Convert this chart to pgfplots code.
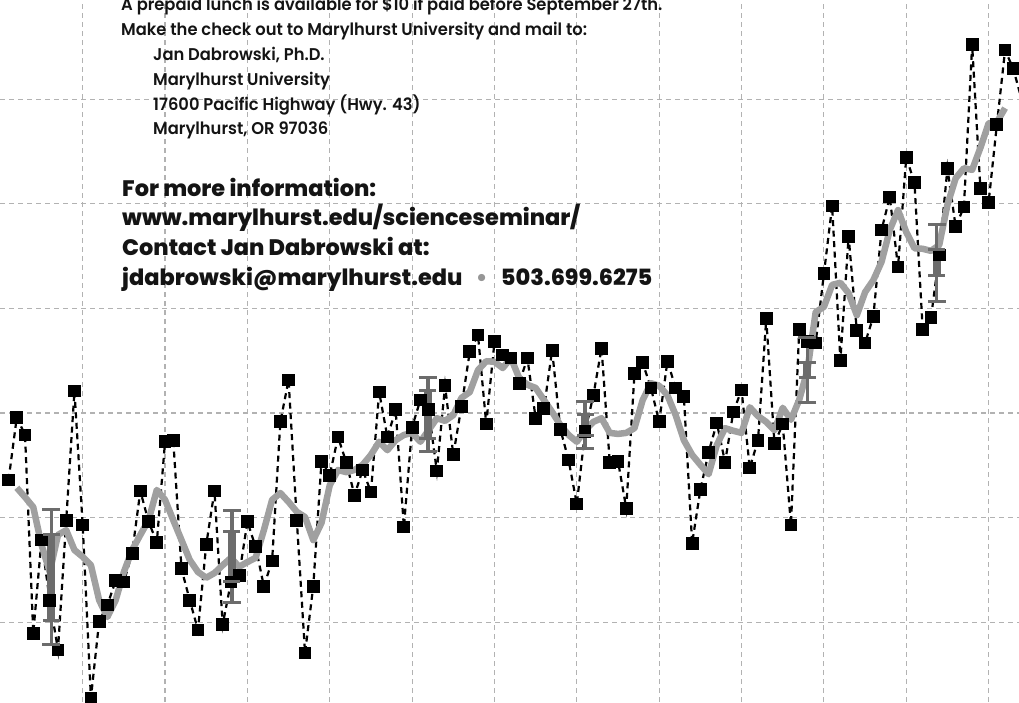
\documentclass[border=0pt]{standalone}
\usepackage{pgfplots}
\pgfplotsset{compat=1.18}
\usepackage{fontspec}
\setmainfont{Poppins}
\newfontfamily\smallfont{Poppins SemiBold}[FakeStretch=0.96]
\newfontfamily\bigfont{Poppins ExtraBold}

\definecolor{gridgray}{RGB}{178,178,178}
\definecolor{meangray}{RGB}{160,160,160}
\definecolor{errgray}{RGB}{108,108,108}
\definecolor{dotgray}{RGB}{150,150,150}

% annual values: year, anomaly
\pgfplotstableread{
year  val
1881 -0.128
1882 -0.008
1883 -0.042
1884 -0.421
1885 -0.243
1886 -0.358
1887 -0.453
1888 -0.205
1889  0.042
1890 -0.214
1891 -0.545
1892 -0.398
1893 -0.367
1894 -0.321
1895 -0.323
1896 -0.268
1897 -0.149
1898 -0.208
1899 -0.247
1900 -0.055
1901 -0.052
1902 -0.298
1903 -0.358
1904 -0.415
1905 -0.252
1906 -0.149
1907 -0.405
1908 -0.323
1909 -0.310
1910 -0.208
1911 -0.256
1912 -0.331
1913 -0.283
1914 -0.017
1915  0.063
1916 -0.205
1917 -0.459
1918 -0.331
1919 -0.092
1920 -0.119
1921 -0.046
1922 -0.094
1923 -0.157
1924 -0.109
1925 -0.151
1926  0.040
1927 -0.046
1928  0.006
1929 -0.218
1930 -0.027
1931  0.025
1932  0.006
1933 -0.111
1934  0.052
1935 -0.080
1936  0.013
1937  0.117
1938  0.149
1939 -0.021
1940  0.136
1941  0.111
1942  0.105
1943  0.057
1944  0.105
1945 -0.010
1946  0.008
1947  0.120
1948 -0.031
1949 -0.090
1950 -0.174
1951 -0.036
1952  0.033
1953  0.124
1954 -0.094
1955 -0.092
1956 -0.182
1957  0.075
1958  0.096
1959  0.048
1960 -0.017
1961  0.099
1962  0.048
1963  0.031
1964 -0.249
1965 -0.147
1966 -0.075
1967 -0.019
1968 -0.094
1969  0.002
1970  0.044
1971 -0.105
1972 -0.052
1973  0.180
1974 -0.059
1975 -0.021
1976 -0.214
1977  0.159
1978  0.136
1979  0.134
1980  0.266
1981  0.396
1982  0.101
1983  0.338
1984  0.157
1985  0.134
1986  0.184
1987  0.350
1988  0.413
1989  0.279
1990  0.489
1991  0.440
1992  0.159
1993  0.182
1994  0.302
1995  0.468
1996  0.356
1997  0.394
1998  0.704
1999  0.430
2000  0.403
2001  0.551
2002  0.694
2003  0.658
2004  0.600
}\annual

% five-year running mean
\pgfplotstableread{
year  val
1882 -0.143
1883 -0.161
1884 -0.180
1885 -0.252
1886 -0.304
1887 -0.233
1888 -0.224
1889 -0.262
1890 -0.275
1891 -0.291
1892 -0.358
1893 -0.390
1894 -0.358
1895 -0.304
1896 -0.262
1897 -0.233
1898 -0.205
1899 -0.147
1900 -0.166
1901 -0.205
1902 -0.243
1903 -0.281
1904 -0.304
1905 -0.315
1906 -0.306
1907 -0.291
1908 -0.277
1909 -0.294
1910 -0.285
1911 -0.277
1912 -0.224
1913 -0.166
1914 -0.153
1915 -0.170
1916 -0.189
1917 -0.199
1918 -0.243
1919 -0.210
1920 -0.138
1921 -0.109
1922 -0.113
1923 -0.109
1924 -0.099
1925 -0.080
1926 -0.055
1927 -0.071
1928 -0.052
1929 -0.042
1930 -0.038
1931 -0.055
1932 -0.033
1933 -0.010
1934 -0.015
1935 -0.004
1936  0.029
1937  0.040
1938  0.082
1939  0.099
1940  0.098
1941  0.086
1942  0.105
1943  0.067
1944  0.054
1945  0.048
1946  0.025
1947  0.002
1948 -0.023
1949 -0.042
1950 -0.055
1951 -0.033
1952 -0.017
1953 -0.010
1954 -0.038
1955 -0.040
1956 -0.038
1957 -0.029
1958  0.025
1959  0.057
1960  0.052
1961  0.034
1962 -0.004
1963 -0.052
1964 -0.080
1965 -0.099
1966 -0.117
1967 -0.061
1968 -0.029
1969 -0.034
1970 -0.038
1971  0.011
1972 -0.006
1973 -0.017
1974 -0.033
1975  0.010
1976 -0.013
1977  0.025
1978  0.082
1979  0.193
1980  0.203
1981  0.245
1982  0.249
1983  0.229
1984  0.187
1985  0.231
1986  0.254
1987  0.289
1988  0.350
1989  0.388
1990  0.346
1991  0.315
1992  0.314
1993  0.310
1994  0.321
1995  0.398
1996  0.449
1997  0.468
1998  0.465
1999  0.507
2000  0.554
2001  0.556
2002  0.583
}\runmean

\begin{document}
\begin{tikzpicture}
\begin{axis}[
    at={(0,0)}, anchor=north west,
    scale only axis, width=1019pt, height=702pt,
    xmin=1879.96, xmax=2003.69,
    ymin=-0.5526, ymax=0.7897,
    xtick={1890,1900,...,2000},
    ytick={-0.4,-0.2,0,0.2,0.4,0.6},
    xticklabels={}, yticklabels={},
    tick style={draw=none},
    axis line style={draw=none},
    grid=major,
    major grid style={gridgray, line width=1.1pt, dash pattern=on 5pt off 4pt},
    clip=true,
    outer bar/.style={errgray, line width=3.5pt, mark=-, mark size=9pt,
        mark options={line width=3pt}, forget plot},
    inner bar/.style={errgray, line width=8pt, mark=-, mark size=8.5pt,
        mark options={line width=3pt}, forget plot},
]
\addplot[black, line width=2.2pt, dash pattern=on 6pt off 4.5pt,
    mark=square*, mark size=5.3pt, mark options={solid, fill=black}]
    table[x=year, y=val] {\annual};
\addplot[meangray, line width=6.5pt, line join=round] table[x=year, y=val] {\runmean};
% error bars: outer range, then inner range
\addplot[outer bar] coordinates {(1886.2,-0.443) (1886.2,-0.185)};
\addplot[inner bar] coordinates {(1886.2,-0.396) (1886.2,-0.232)};
\addplot[outer bar] coordinates {(1908.1,-0.363) (1908.1,-0.187)};
\addplot[inner bar] coordinates {(1908.1,-0.323) (1908.1,-0.227)};
\addplot[outer bar] coordinates {(1931.9,-0.074) (1931.9,0.068)};
\addplot[inner bar] coordinates {(1931.9,-0.049) (1931.9,0.043)};
\addplot[outer bar] coordinates {(1951.0,-0.068) (1951.0,0.022)};
\addplot[inner bar] coordinates {(1951.0,-0.043) (1951.0,-0.003)};
\addplot[outer bar] coordinates {(1978.0,0.020) (1978.0,0.144)};
\addplot[inner bar] coordinates {(1978.0,0.067) (1978.0,0.097)};
\addplot[outer bar] coordinates {(1993.7,0.214) (1993.7,0.360)};
\addplot[inner bar] coordinates {(1993.7,0.262) (1993.7,0.312)};
\end{axis}
\begin{scope}[x=1pt, y=-1pt]
\begin{scope}[every node/.style={anchor=base west, inner sep=0pt, text=black!92}]
\node at (121,10) {\smallfont\fontsize{17}{20}\selectfont A prepaid lunch is available for \$10 if paid before September 27th.};
\node at (121,35) {\smallfont\fontsize{17}{20}\selectfont Make the check out to Marylhurst University and mail to:};
\node at (153,60) {\smallfont\fontsize{17}{20}\selectfont Jan Dabrowski, Ph.D.};
\node at (153,85) {\smallfont\fontsize{17}{20}\selectfont Marylhurst University};
\node at (153,110) {\smallfont\fontsize{17}{20}\selectfont 17600 Pacific Highway (Hwy. 43)};
\node at (153,134) {\smallfont\fontsize{17}{20}\selectfont Marylhurst, OR 97036};
\node at (122,196) {\bigfont\fontsize{22.4}{25}\selectfont For more information:};
\node at (122,225) {\bigfont\fontsize{22.4}{25}\selectfont www.marylhurst.edu/scienceseminar/};
\node at (122,255) {\bigfont\fontsize{22.4}{25}\selectfont Contact Jan Dabrowski at:};
\node at (122,285) {\bigfont\fontsize{22.4}{25}\selectfont jdabrowski@marylhurst.edu\hspace{0.6em}{\color{dotgray}\textbullet}\hspace{0.6em}503.699.6275};
\end{scope}
\pgfresetboundingbox
\path (0,0) rectangle (1019,702);
\end{scope}
\end{tikzpicture}
\end{document}
